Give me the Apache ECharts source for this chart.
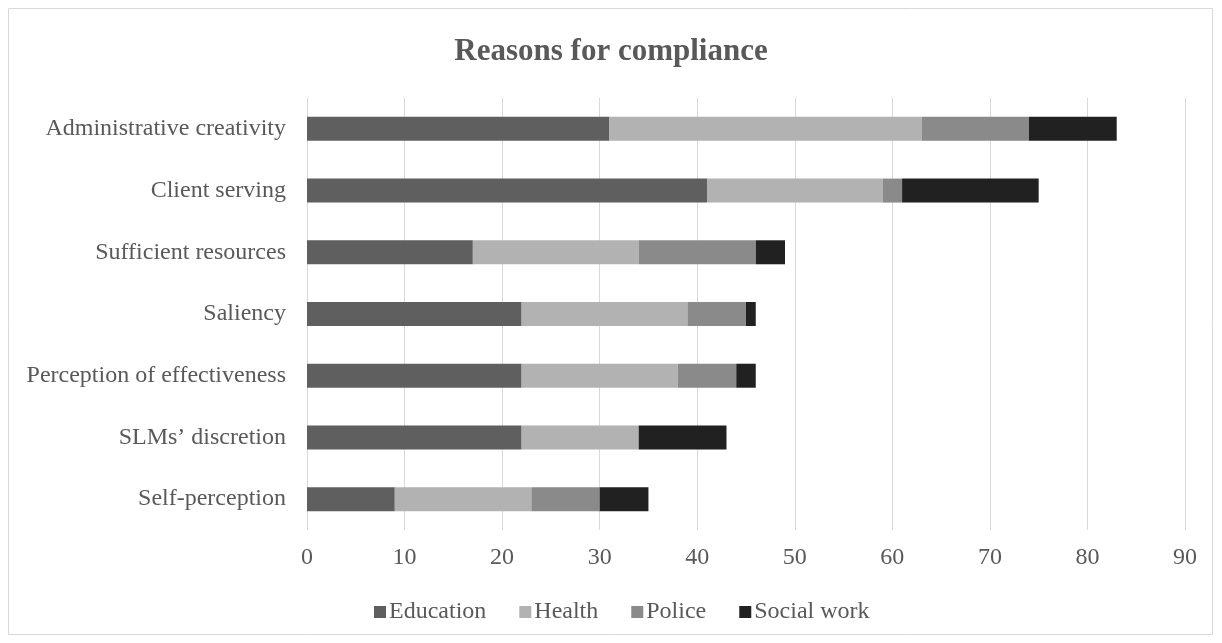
<!DOCTYPE html>
<html>
<head>
<meta charset="utf-8">
<script src="https://cdn.jsdelivr.net/npm/echarts@6/dist/echarts.min.js"></script>
<style>
html,body{margin:0;padding:0;background:#fff;}
#chart{width:1222px;height:643px;}
</style>
</head>
<body>
<div id="chart"></div>
<script>
const categories = ["Administrative creativity","Client serving","Sufficient resources","Saliency","Perception of effectiveness","SLMs\u2019 discretion","Self-perception"];
const education = [31, 41, 17, 22, 22, 22, 9];
const health = [32, 18, 17, 17, 16, 12, 14];
const police = [11, 2, 12, 6, 6, 0, 7];
const socialWork = [9, 14, 3, 1, 2, 9, 5];
const seriesNames = ["Education","Health","Police","Social work"];
const seriesColors = ["#5f5f5f","#b2b2b2","#8a8a8a","#212121"];
const seriesData = [education, health, police, socialWork];

const font = "Liberation Serif, Times New Roman, serif";
const chart = echarts.init(document.getElementById('chart'), null, {renderer:'canvas'});
chart.setOption({
  animation:false,
  backgroundColor:'#fff',
  title:{
    text:'Reasons for compliance',
    left:'center', top:31,
    textStyle:{fontFamily:font, fontSize:31, fontWeight:'bold', color:'#595959'}
  },
  graphic:[{
    type:'rect', shape:{x:8.5,y:8.5,width:1204,height:626},
    style:{fill:'none', stroke:'#d9d9d9', lineWidth:1}, silent:true, z:-1
  }],
  legend:{
    data:seriesNames, top:595, left:369,
    itemWidth:12, itemHeight:12, itemGap:33, icon:'rect',
    textStyle:{fontFamily:font, fontSize:24, color:'#595959', padding:[0,0,0,-2]}
  },
  grid:{left:307, right:37, top:98, bottom:113},
  xAxis:{
    type:'value', min:0, max:90, interval:10,
    axisLine:{show:false}, axisTick:{show:false},
    splitLine:{lineStyle:{color:'#d9d9d9', width:1}},
    axisLabel:{fontFamily:font, fontSize:24, color:'#595959', margin:16}
  },
  yAxis:{
    type:'category', data:categories, inverse:true,
    axisLine:{show:false}, axisTick:{show:false},
    axisLabel:{fontFamily:font, fontSize:24, color:'#595959', margin:21}
  },
  series: seriesNames.map((n,i)=>({
    name:n, type:'bar', stack:'total', data:seriesData[i],
    barWidth:24, itemStyle:{color:seriesColors[i]}
  }))
});
</script>
</body>
</html>
